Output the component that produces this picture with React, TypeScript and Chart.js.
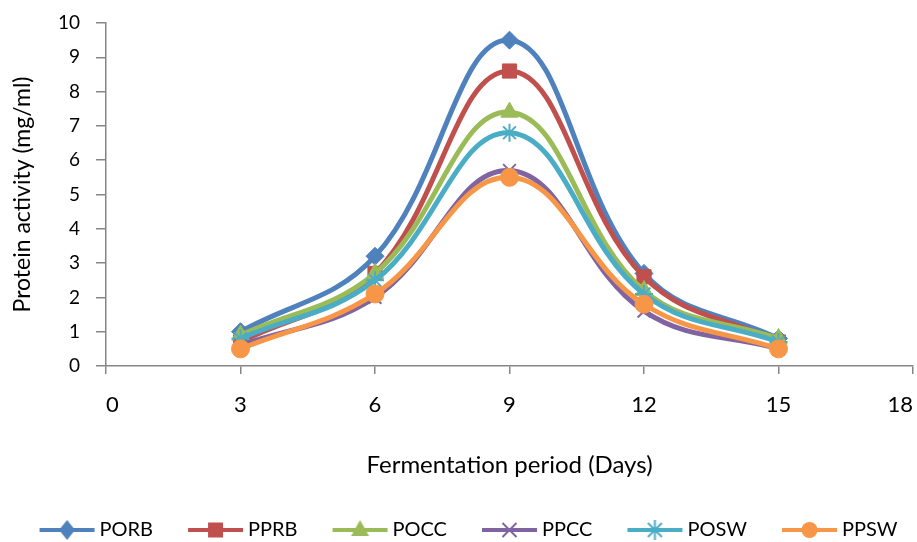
import React, { useEffect, useRef } from "react";
import { Chart, registerables } from "chart.js";

Chart.register(...registerables);

const days = [3, 6, 9, 12, 15];
const xTicks = [0, 3, 6, 9, 12, 15, 18];
const yTicks = [0, 1, 2, 3, 4, 5, 6, 7, 8, 9, 10];

const seriesNames = ["PORB", "PPRB", "POCC", "PPCC", "POSW", "PPSW"];
const PORB = [1.0, 3.2, 9.5, 2.7, 0.8];
const PPRB = [0.7, 2.7, 8.6, 2.6, 0.7];
const POCC = [0.9, 2.7, 7.4, 2.2, 0.8];
const PPCC = [0.6, 2.0, 5.7, 1.6, 0.5];
const POSW = [0.8, 2.5, 6.8, 2.1, 0.7];
const PPSW = [0.5, 2.1, 5.5, 1.8, 0.5];

const seriesValues = [PORB, PPRB, POCC, PPCC, POSW, PPSW];
const colors = ["#4F81BD", "#C0504D", "#9BBB59", "#8064A2", "#4BACC6", "#F79646"];
const styles = ["rectRot", "rect", "triangle", "crossRot", "star", "circle"];
const radii = [9, 10, 10, 9, 9, 9];

const FONT = "Lato, 'Open Sans', sans-serif";
const LEG_BOX = 70;
const LEG_EXTRA = 6;

function drawMarker(ctx: CanvasRenderingContext2D, style: string, x: number, y: number, r: number, color: string) {
  ctx.save();
  ctx.fillStyle = color;
  ctx.strokeStyle = color;
  ctx.lineWidth = 2;
  ctx.beginPath();
  if (style === "rectRot") {
    ctx.moveTo(x, y - r);
    ctx.lineTo(x + r * 0.8, y);
    ctx.lineTo(x, y + r);
    ctx.lineTo(x - r * 0.8, y);
    ctx.closePath();
    ctx.fill();
  } else if (style === "rect") {
    const s = r * 0.75;
    ctx.rect(x - s, y - s, 2 * s, 2 * s);
    ctx.fill();
  } else if (style === "triangle") {
    ctx.moveTo(x, y - r);
    ctx.lineTo(x + r * 0.9, y + r * 0.6);
    ctx.lineTo(x - r * 0.9, y + r * 0.6);
    ctx.closePath();
    ctx.fill();
  } else if (style === "crossRot") {
    const s = r * 0.7;
    ctx.moveTo(x - s, y - s);
    ctx.lineTo(x + s, y + s);
    ctx.moveTo(x + s, y - s);
    ctx.lineTo(x - s, y + s);
    ctx.stroke();
  } else if (style === "star") {
    const s = r * 0.7;
    ctx.moveTo(x - s, y - s);
    ctx.lineTo(x + s, y + s);
    ctx.moveTo(x + s, y - s);
    ctx.lineTo(x - s, y + s);
    ctx.moveTo(x, y - r);
    ctx.lineTo(x, y + r);
    ctx.stroke();
  } else {
    ctx.arc(x, y, r * 0.8, 0, Math.PI * 2);
    ctx.fill();
  }
  ctx.restore();
}

function legendImage(i: number): HTMLCanvasElement {
  const c = document.createElement("canvas");
  const w = LEG_BOX + 2 * LEG_EXTRA;
  c.width = w;
  c.height = 24;
  const ctx = c.getContext("2d")!;
  const end = LEG_BOX + LEG_EXTRA + 5;
  const start = end - 55;
  ctx.strokeStyle = colors[i];
  ctx.lineWidth = 4;
  ctx.beginPath();
  ctx.moveTo(start, 12);
  ctx.lineTo(end, 12);
  ctx.stroke();
  drawMarker(ctx, styles[i], (start + end) / 2, 12, 10, colors[i]);
  return c;
}

export default function App() {
  const ref = useRef<HTMLCanvasElement | null>(null);

  useEffect(() => {
    document.body.style.margin = "0";
    const canvas = ref.current!;
    const images = seriesNames.map((_, i) => legendImage(i));
    const chart = new Chart(canvas, {
      type: "line",
      data: {
        datasets: seriesNames.map((name, i) => ({
          label: name,
          data: days.map((d, j) => ({ x: d, y: seriesValues[i][j] })),
          borderColor: colors[i],
          backgroundColor: colors[i],
          borderWidth: 5,
          tension: 0.4,
          pointStyle: styles[i] as any,
          pointRadius: radii[i],
          pointBorderWidth: i === 3 || i === 4 ? 2 : 1,
          pointBorderColor: colors[i],
          pointBackgroundColor: colors[i],
          order: seriesNames.length - i,
          fill: false,
          clip: false as any,
        })),
      },
      options: {
        animation: false,
        responsive: false,
        maintainAspectRatio: false,
        layout: { autoPadding: false, padding: { top: 23, right: 0, left: 0, bottom: -8 } } as any,
        plugins: {
          tooltip: { enabled: false },
          legend: {
            position: "bottom",
            labels: {
              usePointStyle: true,
              pointStyleWidth: LEG_BOX,
              padding: 15,
              font: { family: FONT, size: 20 },
              color: "#000",
              generateLabels: () =>
                seriesNames.map((n, i) => ({
                  text: n,
                  pointStyle: images[i],
                  datasetIndex: i,
                  fillStyle: colors[i],
                  strokeStyle: colors[i],
                  lineWidth: 0,
                  hidden: false,
                  fontColor: "#000",
                })),
            },
          },
        },
        scales: {
          x: {
            type: "linear",
            min: 0,
            max: 18,
            afterBuildTicks: (s: any) => {
              s.ticks = xTicks.map((v) => ({ value: v }));
            },
            afterFit: (s: any) => {
              s.height = 139;
              s.paddingRight = 4;
              s.paddingLeft = 0;
            },
            grid: { drawOnChartArea: false, drawTicks: true, tickLength: 8, color: "#868686", lineWidth: 1.5 },
            border: { color: "#868686", width: 1.5 },
            ticks: { font: { family: FONT, size: 22 }, color: "#000", padding: 18, align: "inner", maxRotation: 0 },
            title: {
              display: true,
              text: "Fermentation period (Days)",
              font: { family: FONT, size: 24 },
              color: "#000",
              padding: { top: 10, bottom: 25.6 },
            },
          },
          y: {
            type: "linear",
            min: 0,
            max: 10,
            afterBuildTicks: (s: any) => {
              s.ticks = yTicks.map((v) => ({ value: v }));
            },
            afterFit: (s: any) => {
              s.width = 106;
              s.paddingTop = 0;
              s.paddingBottom = 0;
            },
            grid: { drawOnChartArea: false, drawTicks: true, tickLength: 10, color: "#868686", lineWidth: 1.5 },
            border: { color: "#868686", width: 1.5 },
            ticks: { font: { family: FONT, size: 19 }, color: "#000", padding: 16 },
            title: {
              display: true,
              text: "Protein activity (mg/ml)",
              font: { family: FONT, size: 23 },
              color: "#000",
              padding: { top: 9, bottom: 10 },
            },
          },
        },
      },
    });
    return () => chart.destroy();
  }, []);

  return (
    <div style={{ width: 917, height: 542 }}>
      <canvas ref={ref} width={917} height={542} style={{ width: 917, height: 542 }} />
    </div>
  );
}
